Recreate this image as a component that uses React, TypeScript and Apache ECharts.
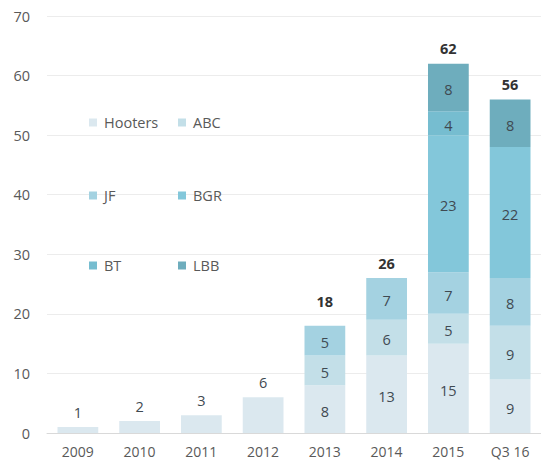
import React, { useEffect, useRef } from "react";
import * as echarts from "echarts";

const categories = ["2009", "2010", "2011", "2012", "2013", "2014", "2015", "Q3 16"];
const hooters = [1, 2, 3, 6, 8, 13, 15, 9];
const abc = [0, 0, 0, 0, 5, 6, 5, 9];
const jf = [0, 0, 0, 0, 5, 7, 7, 8];
const bgr = [0, 0, 0, 0, 0, 0, 23, 22];
const bt = [0, 0, 0, 0, 0, 0, 4, 0];
const lbb = [0, 0, 0, 0, 0, 0, 8, 8];
const yTicks = [0, 10, 20, 30, 40, 50, 60, 70];

const seriesNames = ["Hooters", "ABC", "JF", "BGR", "BT", "LBB"];
const seriesData = [hooters, abc, jf, bgr, bt, lbb];
const colors = ["#dbe8ef", "#c3dfe8", "#a4d2e1", "#83c7da", "#76bdd0", "#6eadbd"];

const FONT = "'Open Sans', Lato, sans-serif";

export default function App() {
  const ref = useRef<HTMLDivElement>(null);
  useEffect(() => {
    document.body.style.margin = "0";
    if (!ref.current) return;
    const chart = echarts.init(ref.current, null, { renderer: "svg" });
    const segCount = categories.map((_, i) => seriesData.filter((s) => s[i] > 0).length);
    const totals = categories.map((_, i) => seriesData.reduce((a, s) => a + s[i], 0));

    const barSeries = seriesNames.map((name, si) => ({
      name,
      type: "bar",
      stack: "total",
      barWidth: "66%",
      itemStyle: { color: colors[si] },
      label: {
        show: true,
        position: "inside",
        offset: [0, 2],
        color: "#3f4a52",
        fontSize: 14.5,
        fontFamily: FONT,
        formatter: (p: any) => (p.value > 0 && segCount[p.dataIndex] > 1 ? String(p.value) : ""),
      },
      emphasis: { disabled: true },
      data: seriesData[si],
    }));

    const totalSeries = {
      name: "Total",
      type: "line",
      data: totals.map((v, i) => ({
        value: v,
        label: {
          fontWeight: segCount[i] > 1 ? "bold" : "normal",
          color: segCount[i] > 1 ? "#333333" : "#3f4a52",
          distance: i === 4 ? 16 : 7,
        },
      })),
      symbol: "circle",
      symbolSize: 1,
      showSymbol: true,
      itemStyle: { color: "rgba(0,0,0,0)" },
      lineStyle: { width: 0, color: "rgba(0,0,0,0)" },
      silent: true,
      label: {
        show: true,
        position: "top",
        fontSize: 14.5,
        fontFamily: FONT,
      },
      z: 10,
    };

    const legendPos: [string, number, number][] = [
      ["Hooters", 89, 115],
      ["ABC", 178, 115],
      ["JF", 89, 188],
      ["BGR", 178, 188],
      ["BT", 89, 258],
      ["LBB", 178, 258],
    ];

    chart.setOption({
      animation: false,
      grid: { left: 47, top: 16, width: 500, height: 417 },
      legend: legendPos.map(([n, x, y]) => ({
        data: [n],
        left: x,
        top: y,
        padding: 0,
        itemWidth: 8,
        itemHeight: 8,
        itemGap: 0,
        icon: "rect",
        selectedMode: false,
        textStyle: { color: "#595959", fontSize: 14.5, fontFamily: FONT, padding: [0, 0, 0, 2] },
      })),
      xAxis: {
        type: "category",
        data: categories,
        axisLine: { lineStyle: { color: "#d9d9d9" } },
        axisTick: { show: false },
        axisLabel: { color: "#595959", fontSize: 14, fontFamily: FONT, margin: 11 },
      },
      yAxis: {
        type: "value",
        min: yTicks[0],
        max: yTicks[yTicks.length - 1],
        interval: 10,
        axisLine: { show: false },
        axisTick: { show: false },
        axisLabel: { color: "#595959", fontSize: 14.5, fontFamily: FONT, margin: 17 },
        splitLine: { lineStyle: { color: "#ececec" } },
      },
      series: [...barSeries, totalSeries],
    });
    return () => chart.dispose();
  }, []);
  return <div ref={ref} style={{ width: 541, height: 470 }} />;
}
